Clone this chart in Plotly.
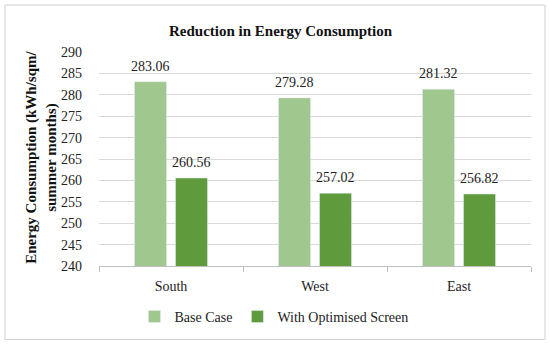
import plotly.graph_objects as go

categories = ["South", "West", "East"]
base_case = [283.06, 279.28, 281.32]
optimised = [260.56, 257.02, 256.82]
series_names = ["Base Case", "With Optimised Screen"]
y_ticks = list(range(240, 291, 5))
y_title = "<b>Energy Consumption (kWh/sqm/<br>summer months)</b>"

FONT = "Liberation Serif"
light = "#a0c78e"
dark = "#5f9b3c"

BAR_SLOT_PX = 20.5  # horizontal offset of each bar centre from its category centre

fig = go.Figure()
annotations = [dict(text=y_title, xref="paper", yref="paper", x=-0.132, y=0.51,
                    xanchor="center", yanchor="middle", textangle=-90, showarrow=False,
                    font=dict(family=FONT, size=15, color="#111"))]
for k, (vals, name, col) in enumerate([(base_case, series_names[0], light),
                                        (optimised, series_names[1], dark)]):
    fig.add_trace(go.Bar(x=categories, y=vals, name=name, marker_color=col,
                         hoverinfo="x+y+name"))
    shift = -BAR_SLOT_PX if k == 0 else BAR_SLOT_PX
    for c, v in zip(categories, vals):
        annotations.append(dict(x=c, y=v, xref="x", yref="y", text=f"{v:.2f}",
                                showarrow=False, xanchor="center", yanchor="bottom",
                                xshift=shift, yshift=6,
                                font=dict(family=FONT, size=14, color="#222")))

fig.update_layout(
    width=550, height=345,
    margin=dict(l=99, r=19, t=52, b=79, autoexpand=False),
    paper_bgcolor="white", plot_bgcolor="white",
    barmode="group", bargap=0.43, bargroupgap=0.22,
    font=dict(family=FONT, size=14, color="#222"),
    title=dict(text="<b>Reduction in Energy Consumption</b>", x=0.51, xanchor="center",
               y=0.91, yanchor="middle", font=dict(family=FONT, size=15, color="#111")),
    showlegend=True,
    legend=dict(orientation="h", x=0.405, xanchor="center", y=-0.238, yanchor="middle",
                font=dict(family=FONT, size=14, color="#222"), itemwidth=30,
                bgcolor="rgba(0,0,0,0)", traceorder="normal"),
    shapes=[dict(type="rect", xref="paper", yref="paper", x0=-0.2176, x1=1.0324,
                 y0=-0.343, y1=1.2196, line=dict(color="#d0d0d0", width=1),
                 fillcolor="rgba(0,0,0,0)", layer="below")],
    annotations=annotations,
)
fig.update_yaxes(range=[240, 290], tickvals=y_ticks, showgrid=True, gridcolor="#d9d9d9",
                 gridwidth=1, zeroline=False, showline=False, ticks="",
                 ticklabelstandoff=16,
                 tickfont=dict(family=FONT, size=14, color="#222"))
fig.update_xaxes(showline=True, linecolor="#bfbfbf", linewidth=1, ticks="outside",
                 tickson="boundaries", ticklen=5, tickcolor="#bfbfbf",
                 ticklabelstandoff=7,
                 tickfont=dict(family=FONT, size=14, color="#222"), showgrid=False)

fig.write_html("out.html", config={"displayModeBar": False},
               post_script="document.body.style.margin='0';")
